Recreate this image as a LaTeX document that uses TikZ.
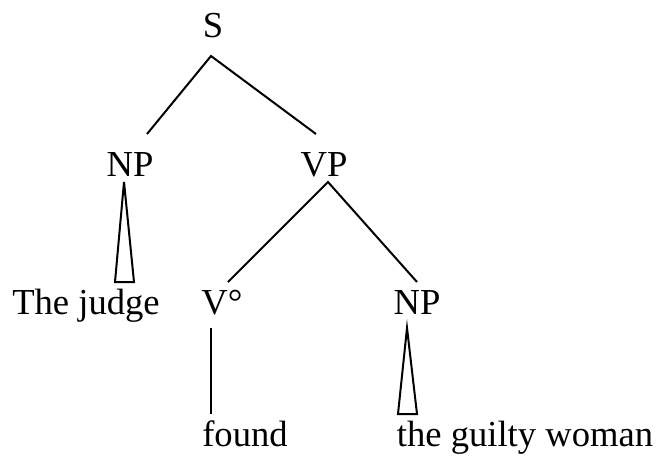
\documentclass[tikz,border=0pt]{standalone}
\usepackage{fontspec}
\setmainfont{Liberation Serif}
\begin{document}
\begin{tikzpicture}[x=0.5pt,y=-0.5pt,line width=1pt,
  lbl/.style={anchor=base,inner sep=0pt,font=\fontsize{18.3}{22}\selectfont}]

\useasboundingbox (0,0) rectangle (658,461);

\coordinate (A) at (211,56);
\coordinate (B) at (147,134);
\coordinate (C) at (316,134);
\coordinate (D) at (124,182);
\coordinate (E) at (115,282);
\coordinate (F) at (134,282);
\coordinate (G) at (328,182);
\coordinate (H) at (228,282);
\coordinate (I) at (417,282);
\coordinate (J) at (211,328);
\coordinate (K) at (211,414);
\coordinate (L) at (407,328);
\coordinate (M) at (398,414);
\coordinate (N) at (417,414);


\draw (B)--(A)--(C);
\draw (D)--(E)--(F)--cycle;
\draw (H)--(G)--(I);
\draw (J)--(K);
\draw (L)--(M)--(N)--cycle;


\node [lbl] (s) at (213,37) {S};
\node [lbl] (np) at (130,176) {NP};
\node [lbl] (vp) at (324,176) {VP};
\node [lbl] (judge) at (86,314) {The judge};
\node [lbl] (v) at (222,314) {V°};
\node [lbl] (np2) at (417,314) {NP};
\node [lbl] (found) at (245,446) {found};
\node [lbl] (woman) at (525,446) {the guilty woman};


\end{tikzpicture}
\end{document}
